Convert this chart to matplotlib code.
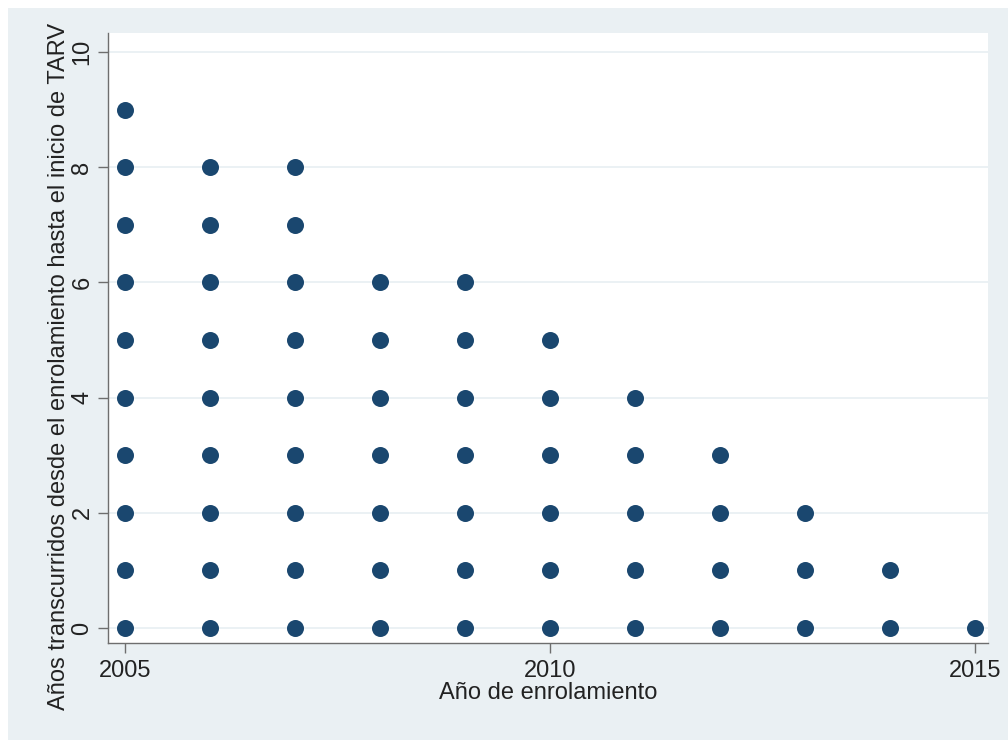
import matplotlib
matplotlib.use("Agg")
import matplotlib.pyplot as plt
import matplotlib.patches as mpatches

plt.rcParams["font.family"] = ["Liberation Sans", "DejaVu Sans"]

# ── data: enrolment year and max years until TARV start ──────────────────────
years = [2005, 2006, 2007, 2008, 2009, 2010, 2011, 2012, 2013, 2014, 2015]
max_wait = [9, 8, 8, 6, 6, 5, 4, 3, 2, 1, 0]

xs, ys = [], []
for yr, top in zip(years, max_wait):
    for w in range(top + 1):
        xs.append(yr)
        ys.append(w)

BG = "#eaf0f3"
DOT = "#1a476f"
AXIS = "#6e6e6e"
TXT = "#222222"
W, H = 1008, 740

fig = plt.figure(figsize=(W / 100, H / 100), dpi=100, facecolor="white")
# stata-style outer panel (thin white strip left/top)
fig.patches.append(mpatches.Rectangle((8 / W, 0), 1 - 8 / W, 1 - 8 / H,
                                      transform=fig.transFigure,
                                      facecolor=BG, edgecolor="none", zorder=-10))

ax = fig.add_axes([108 / W, 1 - 643 / H, (988 - 108) / W, (643 - 33) / H])
ax.set_facecolor("white")

ax.scatter(xs, ys, s=150, color=DOT, linewidths=0, zorder=3)

ax.set_xlim(2004.8, 2015.15)
ax.set_ylim(-0.26, 10.33)
ax.set_xticks([2005, 2010, 2015])
ax.set_yticks(range(0, 11, 2))
ax.tick_params(axis="both", colors=AXIS, length=7, width=1, labelsize=17,
               labelcolor=TXT)
ax.tick_params(axis="x", pad=5)
ax.tick_params(axis="y", pad=3.5)
plt.setp(ax.get_yticklabels(), rotation=90, va="center")

ax.grid(axis="y", color="#e8eff2", linewidth=1.2, zorder=0)
ax.set_axisbelow(True)

for side in ("top", "right"):
    ax.spines[side].set_visible(False)
for side in ("left", "bottom"):
    ax.spines[side].set_color(AXIS)
    ax.spines[side].set_linewidth(1)

ax.set_xlabel("Año de enrolamiento", fontsize=17, color=TXT, labelpad=0)
fig.text(59 / W, 1 - 366 / H,
         "Años transcurridos desde el enrolamiento hasta el inicio de TARV",
         fontsize=17, color=TXT, rotation=90, ha="center", va="center")

fig.savefig("out.png", dpi=100, facecolor=fig.get_facecolor())
